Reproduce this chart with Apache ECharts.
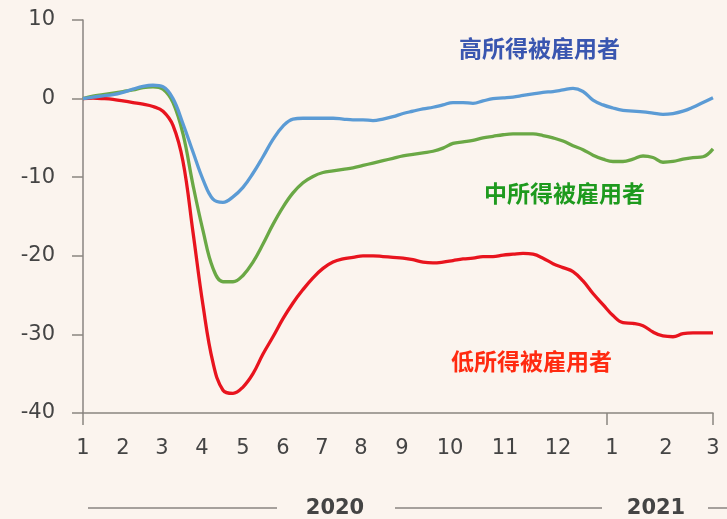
<!DOCTYPE html>
<html><head><meta charset="utf-8">
<script src="https://cdn.jsdelivr.net/npm/echarts@6/dist/echarts.min.js"></script>
<style>html,body{margin:0;padding:0;background:#fbf4ee;}#c{width:727px;height:519px;}</style>
</head><body><div id="c"></div>
<script>
// x positions are in evenly spaced sample steps (0..63) from Jan 2020 to Mar 2021
const highIncome = [0,0.2,0.35,0.5,0.8,1.2,1.55,1.7,1.5,0,-3.2,-6.8,-10.3,-12.8,-13.2,-12.5,-11.3,-9.5,-7.4,-5.2,-3.5,-2.6,-2.5,-2.5,-2.5,-2.5,-2.6,-2.7,-2.7,-2.8,-2.6,-2.3,-1.9,-1.6,-1.3,-1.1,-0.8,-0.5,-0.5,-0.6,-0.3,0,0.1,0.2,0.4,0.6,0.8,0.9,1.1,1.3,0.9,-0.2,-0.8,-1.2,-1.5,-1.6,-1.7,-1.85,-2.0,-1.9,-1.6,-1.1,-0.5,0.1];
const midIncome = [0,0.3,0.5,0.7,0.9,1.1,1.4,1.5,1.2,-0.5,-4.5,-11,-16.8,-21.6,-23.3,-23.3,-22.5,-20.8,-18.5,-16.0,-13.8,-12.0,-10.7,-9.9,-9.4,-9.2,-9.0,-8.8,-8.5,-8.2,-7.9,-7.6,-7.3,-7.1,-6.9,-6.7,-6.3,-5.7,-5.5,-5.3,-5.0,-4.8,-4.6,-4.5,-4.5,-4.5,-4.7,-5.0,-5.4,-6.0,-6.5,-7.2,-7.7,-8.0,-8.0,-7.7,-7.3,-7.5,-8.1,-8.0,-7.7,-7.5,-7.4,-6.4];
const lowIncome = [0,0.05,0,-0.1,-0.3,-0.5,-0.7,-1.0,-1.6,-3.4,-8.0,-17,-26.3,-33.6,-37.1,-37.5,-36.7,-35,-32.5,-30.3,-28,-26,-24.3,-22.8,-21.6,-20.8,-20.4,-20.2,-20.0,-20.0,-20.1,-20.2,-20.3,-20.5,-20.8,-20.9,-20.8,-20.6,-20.4,-20.3,-20.1,-20.1,-19.9,-19.8,-19.7,-19.8,-20.3,-21.0,-21.5,-22.0,-23.2,-24.8,-26.2,-27.6,-28.5,-28.6,-28.9,-29.7,-30.2,-30.3,-29.9,-29.8,-29.8,-29.8];
const monthLabels = ['1','2','3','4','5','6','7','8','9','10','11','12','1','2','3'];
const monthPositions = [0,4.0,7.9,11.9,16.0,20.0,23.9,27.8,31.9,36.7,42.2,47.5,52.9,58.3,63.0];
const yearTickPositions = [0,52.4,63];
const yearLabels = ['2020','2021'];
const seriesNames = ['高所得被雇用者','中所得被雇用者','低所得被雇用者'];

const toPairs = arr => arr.map((v,i)=>[i,v]);
const labelMap = {};
monthPositions.forEach((p,i)=>{labelMap[p.toFixed(2)] = monthLabels[i];});

const chart = echarts.init(document.getElementById('c'));
const axisColor = '#8a8580';
const font = 'DejaVu Sans';
chart.setOption({
  backgroundColor:'#fbf4ee',
  animation:false,
  grid:{left:83,right:14,top:20,bottom:106,containLabel:false},
  xAxis:{
    type:'value',min:0,max:63,
    axisLine:{show:true,onZero:false,lineStyle:{color:axisColor,width:1.5}},
    axisTick:{show:true,length:12,inside:false,customValues:yearTickPositions,lineStyle:{color:axisColor,width:1.5}},
    axisLabel:{show:true,customValues:monthPositions,margin:25,fontSize:21,color:'#444',fontFamily:font,
      formatter:v=>labelMap[Number(v).toFixed(2)]||''},
    splitLine:{show:false}
  },
  yAxis:{
    type:'value',min:-40,max:10,interval:10,
    axisLine:{show:true,lineStyle:{color:axisColor,width:1.5}},
    axisTick:{show:true,length:11,lineStyle:{color:axisColor,width:1.5}},
    axisLabel:{margin:28,fontSize:21,color:'#444',fontFamily:font},
    splitLine:{show:false}
  },
  series:[
    {name:seriesNames[0],type:'line',data:toPairs(highIncome),showSymbol:false,smooth:0.4,lineStyle:{color:'#5b9bd5',width:3.3},z:3},
    {name:seriesNames[1],type:'line',data:toPairs(midIncome),showSymbol:false,smooth:0.4,lineStyle:{color:'#6aa845',width:3.3},z:2},
    {name:seriesNames[2],type:'line',data:toPairs(lowIncome),showSymbol:false,smooth:0.4,lineStyle:{color:'#e8141e',width:3.3},z:1}
  ],
  graphic:[
    {type:'text',left:459,top:37,style:{text:seriesNames[0],fill:'#3a56b0',font:'bold 23px "Noto Sans CJK SC"'}},
    {type:'text',left:484,top:182,style:{text:seriesNames[1],fill:'#1e9a1e',font:'bold 23px "Noto Sans CJK SC"'}},
    {type:'text',left:451,top:350,style:{text:seriesNames[2],fill:'#ff2a10',font:'bold 23px "Noto Sans CJK SC"'}},
    {type:'line',shape:{x1:88,y1:508,x2:277,y2:508},style:{stroke:'#8a8580',lineWidth:1.5}},
    {type:'text',x:335,y:509,style:{text:yearLabels[0],fill:'#444',font:'bold 21px "DejaVu Sans"',align:'center',verticalAlign:'middle'}},
    {type:'line',shape:{x1:395,y1:508,x2:602,y2:508},style:{stroke:'#8a8580',lineWidth:1.5}},
    {type:'text',x:656,y:509,style:{text:yearLabels[1],fill:'#444',font:'bold 21px "DejaVu Sans"',align:'center',verticalAlign:'middle'}},
    {type:'line',shape:{x1:708,y1:508,x2:727,y2:508},style:{stroke:'#8a8580',lineWidth:1.5}}
  ]
});
</script></body></html>
